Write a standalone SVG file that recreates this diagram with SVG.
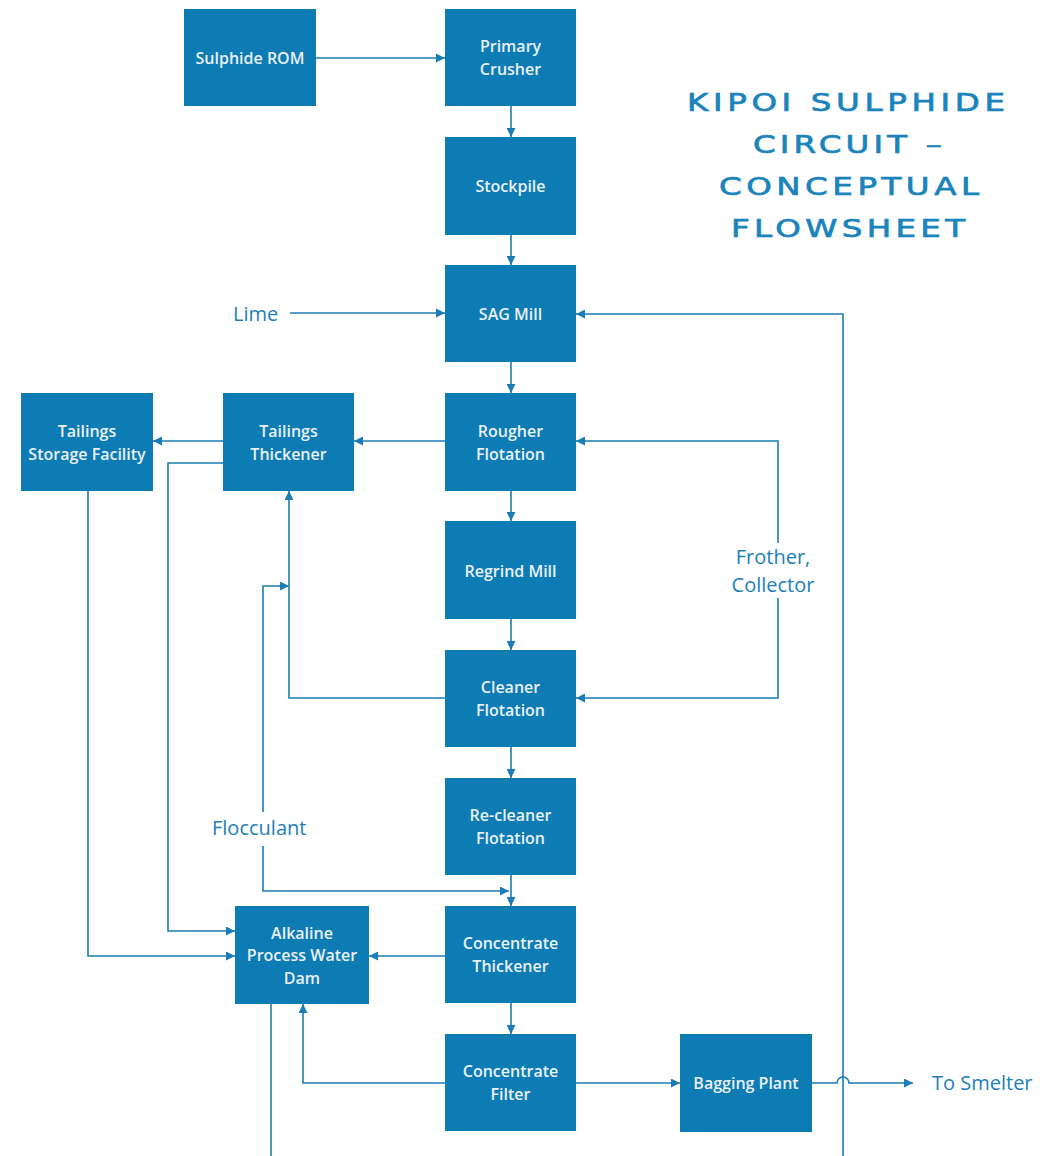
<svg xmlns="http://www.w3.org/2000/svg" width="1051" height="1156" viewBox="0 0 1051 1156">
<defs>
<marker id="ah" viewBox="0 0 10 10" refX="10" refY="5" markerWidth="9" markerHeight="9" markerUnits="userSpaceOnUse" orient="auto">
<path d="M0,0 L10,5 L0,10 z" fill="#1a7db5"/>
</marker>
<style>
.box{fill:#0d7bb4}
.lbl{font-family:"Open Sans","Liberation Sans",sans-serif;font-size:16px;font-weight:600;fill:#eaf1f6;text-anchor:middle}
.ext{font-family:"Open Sans","Liberation Sans",sans-serif;font-size:20px;fill:#1d80ba}
.ttl{font-family:"DejaVu Sans","Liberation Sans",sans-serif;font-size:25px;font-weight:normal;fill:#1b84bc;stroke:#1b84bc;stroke-width:0.7}
.c{fill:none;stroke:#1a7db5;stroke-width:1.6}
.a{marker-end:url(#ah)}
</style>
</defs>
<rect width="1051" height="1156" fill="#ffffff"/>

<g id="title">
<text class="ttl" transform="translate(687,111) scale(1.3,1)" x="0" y="0" textLength="244.6" lengthAdjust="spacing">KIPOI SULPHIDE</text>
<text class="ttl" transform="translate(753,153) scale(1.3,1)" x="0" y="0" textLength="145.4" lengthAdjust="spacing">CIRCUIT –</text>
<text class="ttl" transform="translate(719,195) scale(1.3,1)" x="0" y="0" textLength="200" lengthAdjust="spacing">CONCEPTUAL</text>
<text class="ttl" transform="translate(731,237) scale(1.3,1)" x="0" y="0" textLength="180" lengthAdjust="spacing">FLOWSHEET</text>
</g>

<g id="connectors">
<path class="c a" d="M316,58 H445"/>
<path class="c a" d="M511,106 V137"/>
<path class="c a" d="M511,235 V265"/>
<path class="c a" d="M511,362 V393"/>
<path class="c a" d="M511,491 V521"/>
<path class="c a" d="M511,619 V650"/>
<path class="c a" d="M511,747 V778"/>
<path class="c a" d="M511,875 V906"/>
<path class="c a" d="M511,1003 V1034"/>
<path class="c a" d="M290,313 H445"/>
<path class="c a" d="M843,1156 V314 H576"/>
<path class="c a" d="M445,441 H354"/>
<path class="c a" d="M223,441 H153"/>
<path class="c a" d="M778,543 V441 H576"/>
<path class="c a" d="M778,598 V698 H576"/>
<path class="c a" d="M445,698 H289 V491"/>
<path class="c a" d="M263,812 V586 H289"/>
<path class="c a" d="M263,846 V891 H509"/>
<path class="c a" d="M223,463 H168 V931 H235"/>
<path class="c a" d="M88,491 V956 H235"/>
<path class="c a" d="M445,956 H369"/>
<path class="c" d="M271,1004 V1156"/>
<path class="c a" d="M445,1083 H303 V1004"/>
<path class="c a" d="M576,1083 H680"/>
<path class="c a" d="M812,1083 H837 A6,6 0 0 1 849,1083 H913"/>
</g>

<g id="n-rom"><rect class="box" x="184" y="9" width="132" height="97"/><text class="lbl" x="250" y="64">Sulphide ROM</text></g>
<g id="n-crusher"><rect class="box" x="445" y="9" width="131" height="97"/><text class="lbl" x="510.5" y="52">Primary</text><text class="lbl" x="510.5" y="75">Crusher</text></g>
<g id="n-stockpile"><rect class="box" x="445" y="137" width="131" height="98"/><text class="lbl" x="510.5" y="192">Stockpile</text></g>
<g id="n-sag"><rect class="box" x="445" y="265" width="131" height="97"/><text class="lbl" x="510.5" y="320">SAG Mill</text></g>
<g id="n-rougher"><rect class="box" x="445" y="393" width="131" height="98"/><text class="lbl" x="510.5" y="437">Rougher</text><text class="lbl" x="510.5" y="460">Flotation</text></g>
<g id="n-regrind"><rect class="box" x="445" y="521" width="131" height="98"/><text class="lbl" x="510.5" y="577">Regrind Mill</text></g>
<g id="n-cleaner"><rect class="box" x="445" y="650" width="131" height="97"/><text class="lbl" x="510.5" y="693">Cleaner</text><text class="lbl" x="510.5" y="716">Flotation</text></g>
<g id="n-recleaner"><rect class="box" x="445" y="778" width="131" height="97"/><text class="lbl" x="510.5" y="821">Re-cleaner</text><text class="lbl" x="510.5" y="844">Flotation</text></g>
<g id="n-cthick"><rect class="box" x="445" y="906" width="131" height="97"/><text class="lbl" x="510.5" y="949">Concentrate</text><text class="lbl" x="510.5" y="972">Thickener</text></g>
<g id="n-cfilter"><rect class="box" x="445" y="1034" width="131" height="97"/><text class="lbl" x="510.5" y="1077">Concentrate</text><text class="lbl" x="510.5" y="1100">Filter</text></g>
<g id="n-tthick"><rect class="box" x="223" y="393" width="131" height="98"/><text class="lbl" x="288.5" y="437">Tailings</text><text class="lbl" x="288.5" y="460">Thickener</text></g>
<g id="n-tsf"><rect class="box" x="21" y="393" width="132" height="98"/><text class="lbl" x="87" y="437">Tailings</text><text class="lbl" x="87" y="460">Storage Facility</text></g>
<g id="n-dam"><rect class="box" x="235" y="906" width="134" height="98"/><text class="lbl" x="302" y="939">Alkaline</text><text class="lbl" x="302" y="961">Process Water</text><text class="lbl" x="302" y="984">Dam</text></g>
<g id="n-bagging"><rect class="box" x="680" y="1034" width="132" height="98"/><text class="lbl" x="746" y="1089">Bagging Plant</text></g>

<g id="labels">
<text class="ext" x="233" y="321">Lime</text>
<text class="ext" x="773" y="564" text-anchor="middle">Frother,</text>
<text class="ext" x="773" y="592" text-anchor="middle">Collector</text>
<text class="ext" x="212" y="835">Flocculant</text>
<text class="ext" x="932" y="1090">To Smelter</text>
</g>
</svg>
